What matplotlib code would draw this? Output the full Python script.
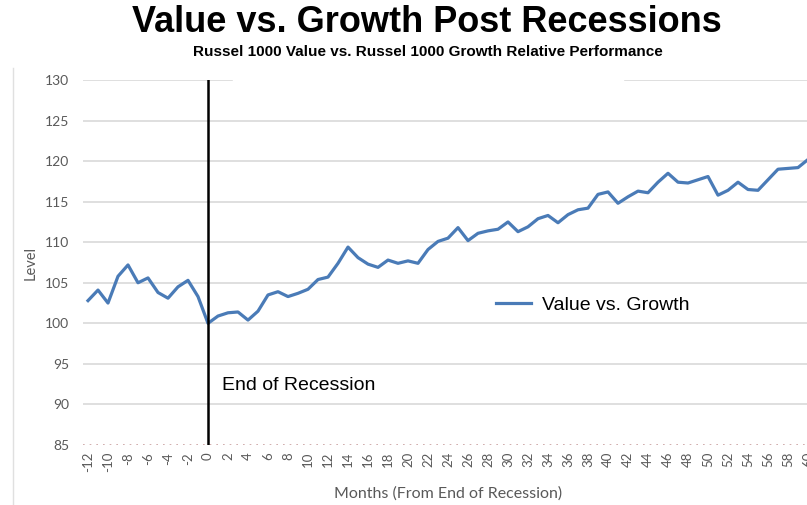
import matplotlib
matplotlib.use("Agg")
import matplotlib.pyplot as plt
from matplotlib.lines import Line2D
from matplotlib.patches import Rectangle

# months relative to end of recession
months = list(range(-12, 61))
value_vs_growth = [
    102.8, 104.1, 102.5, 105.8, 107.2, 105.0, 105.6, 103.8, 103.1, 104.5, 105.3, 103.3,
    100.0, 100.9, 101.3, 101.4, 100.4, 101.5, 103.5, 103.9, 103.3, 103.7, 104.2, 105.4,
    105.7, 107.4, 109.4, 108.1, 107.3, 106.9, 107.8, 107.4, 107.7, 107.4, 109.1, 110.1,
    110.5, 111.8, 110.2, 111.1, 111.4, 111.6, 112.5, 111.3, 111.9, 112.9, 113.3, 112.4,
    113.4, 114.0, 114.2, 115.9, 116.2, 114.8, 115.6, 116.3, 116.1, 117.4, 118.5, 117.4,
    117.3, 117.7, 118.1, 115.8, 116.4, 117.4, 116.5, 116.4, 117.7, 119.0, 119.1, 119.2,
    120.2,
]
x_ticks = list(range(-12, 61, 2))
y_ticks = list(range(85, 131, 5))

blue = "#4a7bb7"
grey = "#595959"

fig = plt.figure(figsize=(8.07, 5.05), dpi=100)
ax = fig.add_axes([83 / 807, 60 / 505, 730 / 807, 365 / 505])

ax.plot(months, value_vs_growth, color=blue, lw=2.3, label="Value vs. Growth",
        solid_joinstyle="round", zorder=3)
ax.axvline(0, color="black", lw=1.8, zorder=4)
ax.text(1.4, 92.3, "End of Recession", fontsize=14, family="Liberation Sans",
        va="center", ha="left")

ax.set_xlim(-12.5, 60.5)
ax.set_ylim(85, 130)
ax.set_yticks(y_ticks)
ax.set_xticks(x_ticks)
ax.set_xticklabels([str(t) for t in x_ticks], rotation=90, fontsize=9.5,
                   color=grey, family="Lato")
ax.set_yticklabels([str(t) for t in y_ticks], fontsize=10, color=grey, family="Lato")
ax.tick_params(axis="both", length=0)
ax.tick_params(axis="y", pad=10)
ax.tick_params(axis="x", pad=5)

for y in y_ticks[1:]:
    ax.axhline(y, color="#d9d9d9", lw=1.2, zorder=1)
ax.axhline(85, color="#c9a0a0", lw=1.2, ls=(0, (1, 3)), zorder=2)
for s in ax.spines.values():
    s.set_visible(False)

ax.set_xlabel("Months (From End of Recession)", fontsize=11.5, color=grey,
              family="Lato", labelpad=10)
ax.set_ylabel("Level", fontsize=10.5, color=grey, family="Lato", labelpad=5)

leg = ax.legend(loc="center left", bbox_to_anchor=(395 / 730, (445 - 305) / 365),
                frameon=False, handlelength=1.8, handletextpad=0.6,
                prop={"family": "Liberation Sans", "size": 14})

# title box hides part of the top gridline
fig.add_artist(Rectangle((233 / 807, 1 - 84 / 505), 390 / 807, 8 / 505,
                         transform=fig.transFigure, color="white", zorder=5))
fig.add_artist(Line2D([13 / 807, 13 / 807], [0, 1 - 68 / 505], color="#e0e0e0", lw=1))

fig.text(427 / 807, 1 - 23 / 505, "Value vs. Growth Post Recessions",
         fontsize=26, fontweight="bold", family="Liberation Sans",
         ha="center", va="center")
fig.text(428 / 807, 1 - 52 / 505,
         "Russel 1000 Value vs. Russel 1000 Growth Relative Performance",
         fontsize=11, fontweight="bold", family="Liberation Sans",
         ha="center", va="center")

fig.savefig("out.png", dpi=100)
